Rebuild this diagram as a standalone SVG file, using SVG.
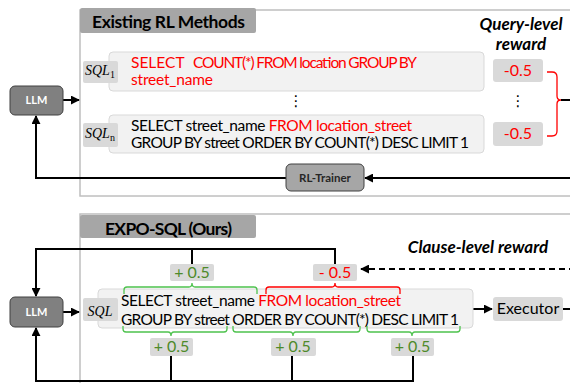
<svg xmlns="http://www.w3.org/2000/svg" width="570" height="383" viewBox="0 0 570 383">
<defs>
<marker id="ah" viewBox="0 0 10 10" refX="9" refY="5" markerWidth="4.5" markerHeight="4.5" orient="auto"><path d="M0,0 L10,5 L0,10 z" fill="#000"/></marker>
<style>
.panel{fill:none;stroke:#bfbfbf;stroke-width:1.5}
.tab{fill:#a6a6a6}
.title{font-family:Lato,"Liberation Sans",sans-serif;font-weight:bold;font-size:17.5px;fill:#000}
.qbox{fill:#f2f2f2;stroke:#d9d9d9;stroke-width:1}
.lbl{fill:#d9d9d9}
.q{font-family:Lato,"Liberation Sans",sans-serif;font-size:15.5px;fill:#000}
.r{fill:#ff0000}
.g{fill:#4e8a2a}
.math{font-family:"Liberation Serif",serif;font-style:italic;font-size:14px;fill:#000}
.sub{font-family:"Liberation Serif",serif;font-size:10px;fill:#000}
.llm{fill:#808080;stroke:#404040;stroke-width:1}
.llmt{font-family:Lato,"Liberation Sans",sans-serif;font-weight:bold;font-size:11px;fill:#fff}
.bi{font-family:Lato,"Liberation Sans",sans-serif;font-weight:bold;font-style:italic;font-size:17px;fill:#000}
.rw{font-family:Lato,"Liberation Sans",sans-serif;font-size:16px}
.c{fill:none;stroke:#000;stroke-width:2}
.gb{fill:none;stroke:#4ec24e;stroke-width:1.3}
.rb{fill:none;stroke:#ff0000;stroke-width:1.3}
.dots{font-family:"DejaVu Sans",sans-serif;font-size:15px;fill:#000}
</style>
</defs>

<!-- Panels -->
<g id="panel-existing">
<rect class="panel" x="80" y="10" width="500" height="186"/>
<rect class="tab" x="80" y="8" width="176" height="25" rx="2"/>
<text class="title" x="92" y="28" textLength="153" lengthAdjust="spacing">Existing RL Methods</text>
</g>
<g id="panel-expo">
<rect class="panel" x="80" y="214" width="500" height="200"/>
<rect class="tab" x="80" y="215" width="176" height="23" rx="2"/>
<text class="title" x="105" y="235" textLength="127" lengthAdjust="spacing">EXPO-SQL (Ours)</text>
</g>

<!-- Connectors -->
<g id="connectors">
<line class="c" x1="63" y1="100" x2="79" y2="100" marker-end="url(#ah)"/>
<path class="c" d="M286,178 H36 V116" marker-end="url(#ah)"/>
<path class="c" d="M575,178 H365" marker-end="url(#ah)"/>
<line class="c" x1="561" y1="100" x2="575" y2="100"/>
<line class="c" x1="63" y1="312" x2="79" y2="312" marker-end="url(#ah)"/>
<path class="c" d="M335,264 V249 H36 V296" marker-end="url(#ah)"/>
<line class="c" x1="192" y1="249" x2="192" y2="264"/>
<path class="c" d="M413,356 V381 H36 V328" marker-end="url(#ah)"/>
<line class="c" x1="171" y1="356" x2="171" y2="381"/>
<line class="c" x1="292" y1="356" x2="292" y2="381"/>
<path class="c" d="M575,269 H361" stroke-dasharray="6,4" marker-end="url(#ah)"/>
<line class="c" x1="473" y1="309" x2="492" y2="309" marker-end="url(#ah)"/>
<line class="c" x1="563" y1="309" x2="575" y2="309"/>
</g>

<!-- Top section nodes -->
<g id="llm-top">
<rect class="llm" x="10" y="86" width="53" height="29" rx="5"/>
<text class="llmt" x="36.5" y="104" text-anchor="middle">LLM</text>
</g>
<g id="rl-trainer">
<rect x="286" y="164" width="78" height="27" rx="5" fill="#a6a6a6" stroke="#404040" stroke-width="1"/>
<text x="325" y="182" text-anchor="middle" font-family="Lato, 'Liberation Sans', sans-serif" font-weight="bold" font-size="11.5" fill="#262626">RL-Trainer</text>
</g>
<g id="sql1">
<rect class="qbox" x="109" y="52" width="375" height="39" rx="4"/>
<rect class="lbl" x="83" y="61" width="35" height="22" rx="2"/>
<text class="math" x="85" y="75">SQL</text><text class="sub" x="110" y="78">1</text>
<text class="q r" x="131" y="68">SELECT</text>
<text class="q r" x="193" y="68" textLength="224" lengthAdjust="spacing">COUNT(*) FROM location GROUP BY</text>
<text class="q r" x="131" y="85" textLength="82" lengthAdjust="spacing">street_name</text>
</g>
<text class="dots" x="296" y="106" text-anchor="middle">⋮</text>
<g id="sqln">
<rect class="qbox" x="109" y="115" width="375" height="38" rx="4"/>
<rect class="lbl" x="83" y="123" width="35" height="24" rx="2"/>
<text class="math" x="85" y="138">SQL</text><text class="sub" x="110" y="141">n</text>
<text class="q" x="131" y="131" textLength="281" lengthAdjust="spacing">SELECT street_name <tspan class="r">FROM location_street</tspan></text>
<text class="q" x="131" y="148" textLength="338" lengthAdjust="spacing">GROUP BY street ORDER BY COUNT(*) DESC LIMIT 1</text>
</g>
<g id="query-reward">
<text class="bi" x="521" y="30" text-anchor="middle">Query-level</text>
<text class="bi" x="521" y="50" text-anchor="middle">reward</text>
<rect class="lbl" x="493" y="59" width="50" height="23" rx="3"/>
<text class="rw r" x="518" y="76" text-anchor="middle">-0.5</text>
<text class="dots" x="518" y="106" text-anchor="middle">⋮</text>
<rect class="lbl" x="493" y="122" width="50" height="24" rx="3"/>
<text class="rw r" x="518" y="139" text-anchor="middle">-0.5</text>
<path class="rb" d="M547,72 H552 Q557,72 557,77 V96 Q557,100 561,100 Q557,100 557,104 V131 Q557,136 552,136 H547"/>
</g>

<!-- Bottom section nodes -->
<g id="llm-bottom">
<rect class="llm" x="10" y="297" width="53" height="30" rx="5"/>
<text class="llmt" x="36.5" y="316" text-anchor="middle">LLM</text>
</g>
<g id="sql-expo">
<rect class="qbox" x="98" y="289" width="375" height="39" rx="4"/>
<rect class="lbl" x="83" y="298" width="35" height="23" rx="2"/>
<text class="math" x="100" y="316" text-anchor="middle">SQL</text>
<text class="q" x="121" y="306" textLength="280" lengthAdjust="spacing">SELECT street_name <tspan class="r">FROM location_street</tspan></text>
<text class="q" x="121" y="325" textLength="338" lengthAdjust="spacing">GROUP BY street ORDER BY COUNT(*) DESC LIMIT 1</text>
</g>
<g id="braces">
<path class="gb" d="M124,294 V290 Q124,287 127,287 H189 Q192,287 192,283 Q192,287 195,287 H254 Q257,287 257,290 V294"/>
<path class="rb" d="M266,294 V290 Q266,287 269,287 H332 Q335,287 335,283 Q335,287 338,287 H397 Q400,287 400,290 V294"/>
<path class="gb" d="M123,326 V329 Q123,332 126,332 H168 Q171,332 171,336 Q171,332 174,332 H224 Q227,332 227,329 V326"/>
<path class="gb" d="M233,326 V329 Q233,332 236,332 H290 Q293,332 293,336 Q293,332 296,332 H357 Q360,332 360,329 V326"/>
<path class="gb" d="M367,326 V329 Q367,332 370,332 H409 Q412,332 412,336 Q412,332 415,332 H457 Q460,332 460,329 V326"/>
</g>
<g id="reward-top-plus">
<rect class="lbl" x="170" y="264" width="44" height="17" rx="2"/>
<text class="rw g" x="192" y="278" text-anchor="middle">+ 0.5</text>
</g>
<g id="reward-top-minus">
<rect class="lbl" x="313" y="264" width="44" height="17" rx="2"/>
<text class="rw r" x="335" y="278" text-anchor="middle">- 0.5</text>
</g>
<g id="reward-b1">
<rect class="lbl" x="150" y="338" width="43" height="18" rx="2"/>
<text class="rw g" x="171.5" y="352" text-anchor="middle">+ 0.5</text>
</g>
<g id="reward-b2">
<rect class="lbl" x="271" y="338" width="45" height="18" rx="2"/>
<text class="rw g" x="293" y="352" text-anchor="middle">+ 0.5</text>
</g>
<g id="reward-b3">
<rect class="lbl" x="391" y="338" width="43" height="18" rx="2"/>
<text class="rw g" x="412.5" y="352" text-anchor="middle">+ 0.5</text>
</g>
<text class="bi" x="478" y="253" text-anchor="middle">Clause-level reward</text>
<g id="executor">
<rect class="lbl" x="493" y="297" width="70" height="24" rx="3"/>
<text class="rw" x="528" y="314" text-anchor="middle" fill="#000">Executor</text>
</g>
</svg>
